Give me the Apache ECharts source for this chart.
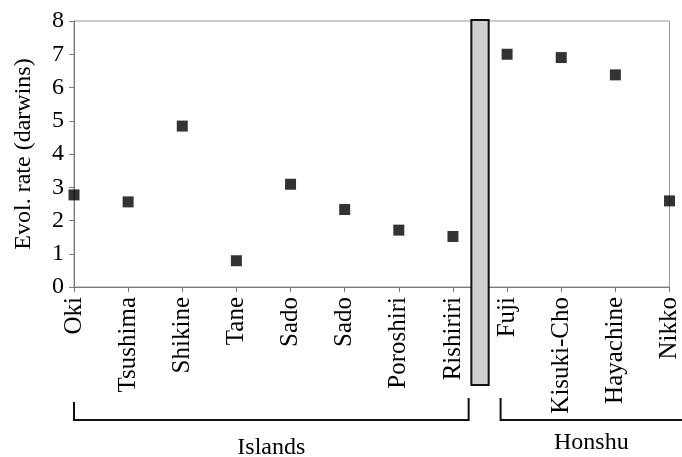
<!DOCTYPE html>
<html>
<head>
<meta charset="utf-8">
<title>Evol. rate</title>
<script src="https://cdn.jsdelivr.net/npm/echarts@6/dist/echarts.min.js"></script>
<style>
    html, body { margin: 0; padding: 0; background: #fff; }
    #main { width: 682px; height: 457px; }
</style>
</head>
<body>
<div id="main"></div>
<script type="text/javascript">
    // data
    var sites = ['Oki', 'Tsushima', 'Shikine', 'Tane', 'Sado', 'Sado', 'Poroshiri', 'Rishiriri',
                 'Fuji', 'Kisuki-Cho', 'Hayachine', 'Nikko'];
    var rates = [2.77, 2.56, 4.84, 0.79, 3.09, 2.33, 1.71, 1.52, 7.0, 6.9, 6.38, 2.59];
    var yTicks = [0, 1, 2, 3, 4, 5, 6, 7, 8];
    var groups = ['Islands', 'Honshu'];
    var lastIsland = 7; // index of Rishiriri, the gap comes after it

    var font = 'Liberation Serif';
    var chart = echarts.init(document.getElementById('main'));

    var option = {
        backgroundColor: '#fff',
        animation: false,
        grid: {
            left: 74, right: 9, top: 21, bottom: 170,
            show: true, borderColor: '#999', borderWidth: 1
        },
        xAxis: {
            type: 'category',
            data: sites,
            boundaryGap: false,
            axisLine: { lineStyle: { color: '#777', width: 1 } },
            axisTick: { alignWithLabel: true, length: 5, lineStyle: { color: '#777' } },
            axisLabel: {
                rotate: 90, margin: 10, interval: 0,
                fontFamily: font, fontSize: 25, color: '#000'
            },
            splitLine: { show: false }
        },
        yAxis: {
            type: 'value',
            min: yTicks[0], max: yTicks[yTicks.length - 1], interval: 1,
            name: 'Evol. rate (darwins)',
            nameLocation: 'middle',
            nameGap: 38,
            nameTextStyle: { fontFamily: font, fontSize: 24, color: '#000' },
            axisLine: { show: true, lineStyle: { color: '#777', width: 1 } },
            axisTick: { show: true, length: 5, lineStyle: { color: '#777' } },
            axisLabel: { margin: 10, fontFamily: font, fontSize: 24, color: '#000' },
            splitLine: { show: false }
        },
        series: [{
            type: 'scatter',
            data: rates,
            symbol: 'rect',
            symbolSize: 11,
            clip: false,
            itemStyle: { color: '#000' }
        }]
    };
    chart.setOption(option);

    // gap bar and group brackets, placed from the category positions
    var p0 = chart.convertToPixel({ xAxisIndex: 0 }, 0);
    var p7 = chart.convertToPixel({ xAxisIndex: 0 }, lastIsland);
    var p8 = chart.convertToPixel({ xAxisIndex: 0 }, lastIsland + 1);
    var yTop = chart.convertToPixel({ yAxisIndex: 0 }, yTicks[yTicks.length - 1]);
    var step = p8 - p7;
    var barL = p7 + 0.34 * step, barR = p7 + 0.66 * step;
    var islR = p7 + 0.29 * step, honL = p8 - 0.12 * step, honR = 682;
    var brY = 420;

    var line = { stroke: '#111', lineWidth: 2 };
    chart.setOption({
        graphic: [
            { type: 'rect', z: 100, shape: { x: barL, y: yTop - 1, width: barR - barL, height: 386 - yTop },
              style: { fill: '#d0d0d0', stroke: '#111', lineWidth: 2 } },
            { type: 'polyline', z: 100, shape: { points: [[p0, 402], [p0, brY], [islR, brY], [islR, 398]] }, style: line },
            { type: 'polyline', z: 100, shape: { points: [[honL, 398], [honL, brY], [honR, brY]] }, style: line },
            { type: 'text', z: 100, x: (p0 + islR) / 2, y: 448,
              style: { text: groups[0], fontFamily: font, fontSize: 24, fill: '#000', align: 'center', verticalAlign: 'middle' } },
            { type: 'text', z: 100, x: (honL + honR) / 2, y: 443,
              style: { text: groups[1], fontFamily: font, fontSize: 24, fill: '#000', align: 'center', verticalAlign: 'middle' } }
        ]
    });
</script>
</body>
</html>
